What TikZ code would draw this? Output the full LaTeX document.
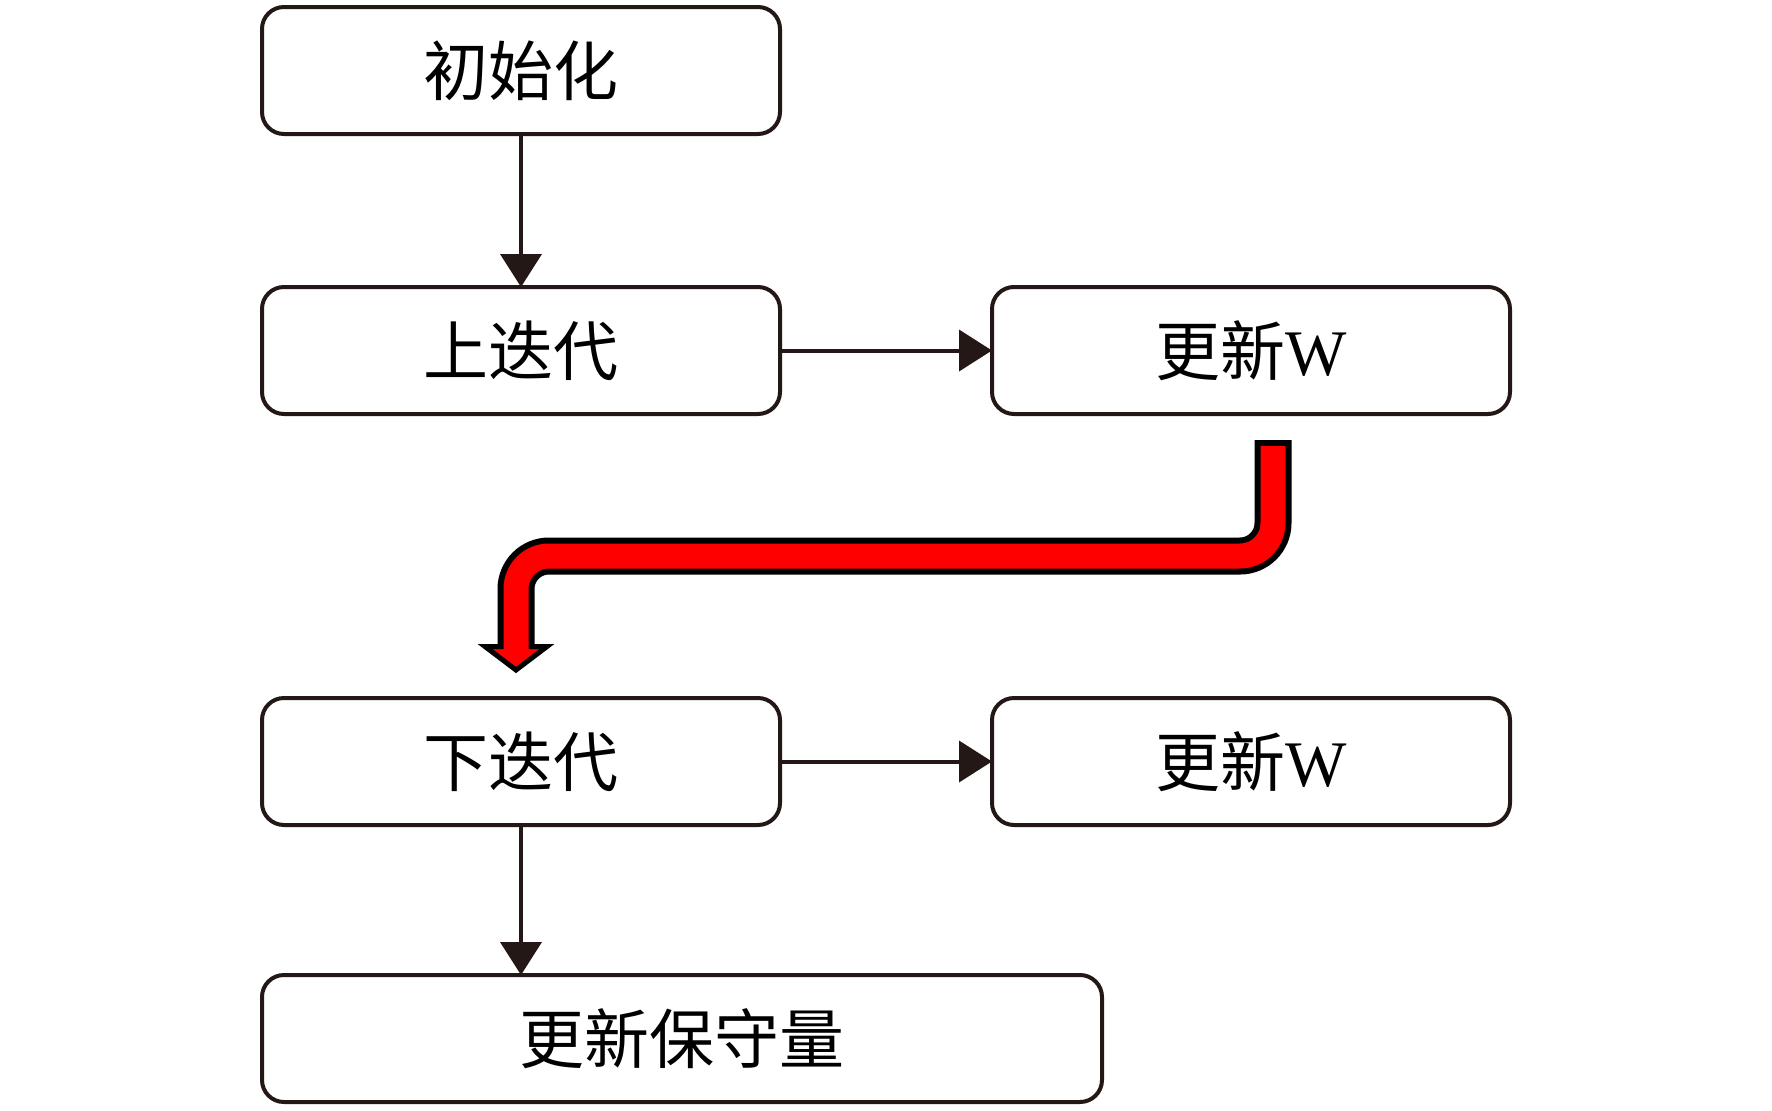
\documentclass[tikz,border=0pt]{standalone}
\usepackage{fontspec}
\setmainfont{Liberation Serif}
\newfontfamily\cjk{Noto Sans CJK SC}
\usetikzlibrary{arrows.meta}
\usetikzlibrary{positioning}
\usetikzlibrary{calc}
\definecolor{inkdark}{RGB}{35,24,21}
\definecolor{pipered}{RGB}{255,0,0}

\begin{document}
\begin{tikzpicture}[line width=0.04cm,
    box/.style={draw=inkdark, rounded corners=0.22cm, minimum width=5.18cm, minimum height=1.27cm, inner sep=0pt, outer sep=0pt, font=\fontsize{18.5}{22}\selectfont},
    flow/.style={draw=inkdark, -{Triangle[length=0.33cm, width=0.41cm]}}]

\useasboundingbox (0,0) rectangle (17.72,11.10);

\node[box] (init) at (5.21,10.395) {\cjk 初始化};
\node[box, below=1.53cm of init] (up) {\cjk 上迭代};
\node[box, right=2.12cm of up] (upW) {{\cjk 更新}W};
\node[box, below=2.84cm of up] (down) {\cjk 下迭代};
\node[box, right=2.12cm of down] (downW) {{\cjk 更新}W};
\node[box, minimum width=8.40cm, below right=1.50cm and 0cm of down.south west] (cons) {\cjk 更新保守量};

\draw[flow] (init) -- (up);
\draw[flow] (up) -- (upW);
\draw[flow] (down) -- (downW);
\draw[flow] (down) -- (cons.north -| down.south);

% red arrow from upper W back to lower sweep
\coordinate (rs) at ([xshift=0.22cm, yshift=-0.26cm]upW.south);
\coordinate (rt) at ([xshift=-0.05cm, yshift=0.28cm]down.north);
\coordinate (hb) at ([yshift=0.235cm]rt);
\coordinate (bend) at ($(upW.south)!.5!(down.north)$);
\filldraw[fill=pipered, draw=black, line width=0.05cm, line join=miter] ([xshift=-0.31cm]hb) -- ([xshift=0.31cm]hb) -- (rt) -- cycle;
\draw[black, line width=0.37cm, rounded corners=0.33cm] (rs) |- (bend) -| (hb);
\draw[pipered, line width=0.25cm, rounded corners=0.33cm, shorten <=0.06cm] (rs) |- (bend) -| ([yshift=-0.05cm]hb);
\end{tikzpicture}
\end{document}
